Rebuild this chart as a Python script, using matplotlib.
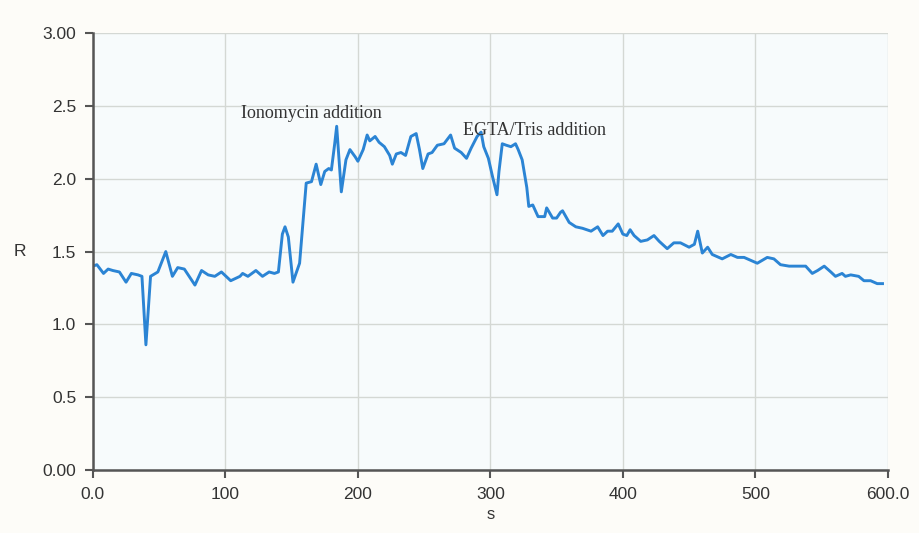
import matplotlib.pyplot as plt

# ratio trace, time in seconds
t = [0, 3, 8, 11.5, 15, 20, 25, 29, 34, 37, 40, 43.5, 49, 55, 60, 64, 69, 77, 82, 87,
     92, 97, 104, 111, 113, 117, 123, 128, 133, 137, 140, 143, 145, 147.5, 151, 156,
     161, 165, 168.5, 172, 175, 178, 180, 182.5, 184, 187.5, 191, 194, 198, 200, 204,
     207, 209, 213, 216, 220, 224, 226, 229, 232.5, 236, 240, 244, 246.5, 249, 253,
     256, 260, 265, 270, 273, 278, 282, 285.5, 290, 293, 295, 298.5, 301.5, 305,
     306.5, 309, 312, 315.5, 319, 321, 324, 327.5, 329, 332, 336, 341, 342.5, 347,
     350, 353, 354.5, 359.5, 364.5, 369.5, 376, 381, 385, 388.5, 392, 396.5, 400,
     403, 405.5, 408.5, 413.5, 418.5, 423.5, 427.5, 433.5, 438.5, 443.5, 450, 454,
     456.5, 460, 464, 467.5, 475, 481.5, 486.5, 491.5, 496.5, 501.5, 509, 514, 519,
     525.5, 531.5, 538, 543, 547, 552, 557, 560.5, 565.5, 568, 572, 578, 582, 587,
     592, 596]
R = [1.40, 1.41, 1.35, 1.38, 1.37, 1.36, 1.29, 1.35, 1.34, 1.33, 0.86, 1.33, 1.36,
     1.50, 1.33, 1.39, 1.38, 1.27, 1.37, 1.34, 1.33, 1.36, 1.30, 1.33, 1.35, 1.33,
     1.37, 1.33, 1.36, 1.35, 1.36, 1.62, 1.67, 1.60, 1.29, 1.42, 1.97, 1.98, 2.10,
     1.96, 2.05, 2.07, 2.06, 2.24, 2.36, 1.91, 2.13, 2.20, 2.15, 2.12, 2.20, 2.30,
     2.26, 2.29, 2.25, 2.22, 2.16, 2.10, 2.17, 2.18, 2.16, 2.29, 2.31, 2.20, 2.07,
     2.17, 2.18, 2.23, 2.24, 2.30, 2.21, 2.18, 2.14, 2.21, 2.29, 2.32, 2.22, 2.14,
     2.02, 1.89, 2.05, 2.24, 2.23, 2.22, 2.24, 2.20, 2.13, 1.94, 1.81, 1.82, 1.74,
     1.74, 1.80, 1.73, 1.73, 1.77, 1.78, 1.70, 1.67, 1.66, 1.64, 1.67, 1.61, 1.64,
     1.64, 1.69, 1.62, 1.61, 1.65, 1.61, 1.57, 1.58, 1.61, 1.57, 1.52, 1.56, 1.56,
     1.53, 1.55, 1.64, 1.49, 1.53, 1.48, 1.45, 1.48, 1.46, 1.46, 1.44, 1.42, 1.46,
     1.45, 1.41, 1.40, 1.40, 1.40, 1.35, 1.37, 1.40, 1.36, 1.33, 1.35, 1.33, 1.34,
     1.33, 1.30, 1.30, 1.28, 1.28]

xticks = [0, 100, 200, 300, 400, 500, 600]
xticklabels = ["0.0", "100", "200", "300", "400", "500", "600.0"]
yticks = [0, 0.5, 1.0, 1.5, 2.0, 2.5, 3.0]
yticklabels = ["0.00", "0.5", "1.0", "1.5", "2.0", "2.5", "3.00"]

notes = [("Ionomycin addition", 112, 2.45), ("EGTA/Tris addition", 279, 2.33)]

fig = plt.figure(figsize=(9.2, 5.33), dpi=100, facecolor="#fdfcf8")
ax = fig.add_axes([0.101, 0.118, 0.864, 0.820])
ax.set_facecolor("#f7fbfc")

ax.plot(t, R, color="#2b84d4", lw=2.1)

ax.set_xlim(0, 600)
ax.set_ylim(0, 3.0)
ax.set_xticks(xticks)
ax.set_xticklabels(xticklabels)
ax.set_yticks(yticks)
ax.set_yticklabels(yticklabels)
ax.grid(True, color="#d4d8d4", lw=1.0)
ax.set_axisbelow(True)

for s in ["top", "right"]:
    ax.spines[s].set_visible(False)
for s in ["left", "bottom"]:
    ax.spines[s].set_color("#555555")
    ax.spines[s].set_linewidth(1.8)

ax.tick_params(direction="out", length=6, width=1.5, color="#555555",
               labelsize=12.5, labelcolor="#333333", pad=6)
for lbl in ax.get_xticklabels() + ax.get_yticklabels():
    lbl.set_family("Liberation Sans")

ax.set_xlabel("s", fontsize=12, family="Liberation Sans", color="#333333", labelpad=4)
ax.set_ylabel("R", fontsize=12.5, family="Liberation Sans", color="#333333",
              rotation=0, labelpad=16, va="center")

for txt, x, y in notes:
    ax.text(x, y, txt, family="Liberation Serif", fontsize=13, color="#333333",
            ha="left", va="center")

fig.savefig("out.png", dpi=100, facecolor=fig.get_facecolor())
